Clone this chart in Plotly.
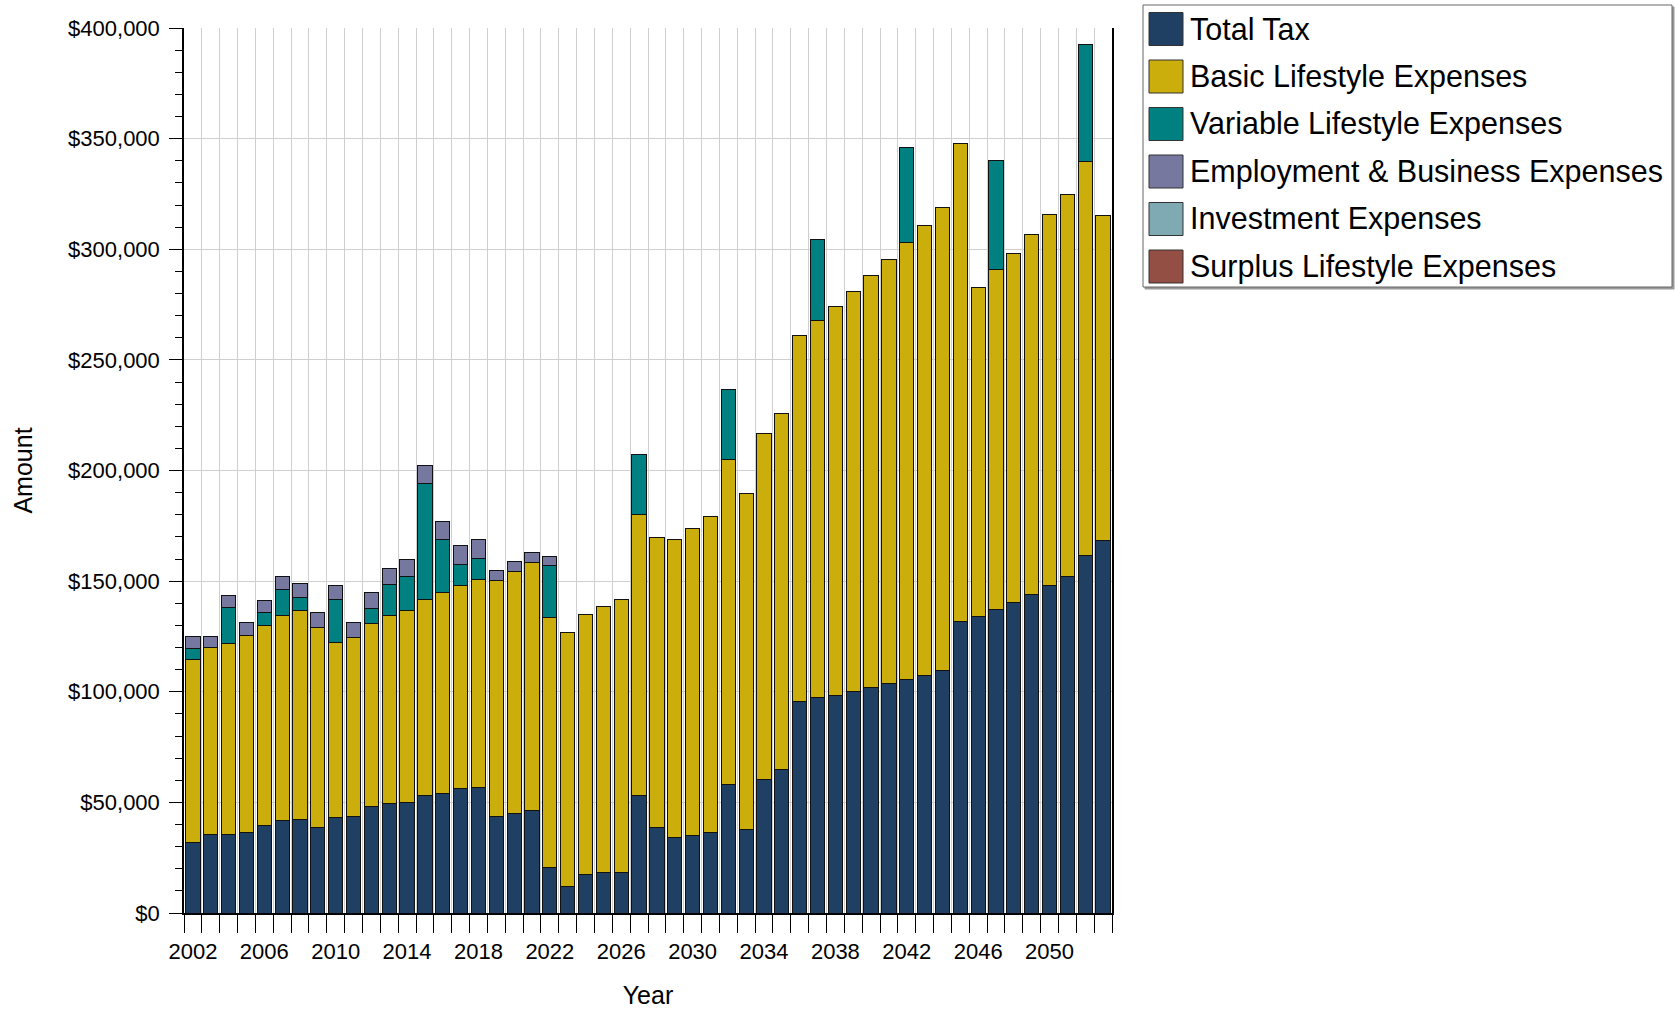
import plotly.graph_objects as go

years = list(range(2002, 2054))

total_tax = [31900, 35400, 35700, 36600, 39400, 41700, 42100, 38700, 43000, 43500,
             48300, 49700, 50100, 53100, 54200, 56300, 56700, 43600, 45200, 46500,
             20500, 11900, 17600, 18500, 18200, 53100, 38800, 34000, 35200, 36400,
             57900, 37900, 60400, 64900, 95800, 97300, 98300, 100000, 101900, 103600,
             105500, 107300, 109400, 131700, 133800, 137300, 140400, 144100, 148100, 152200,
             161500, 168500]

basic_lifestyle = [82800, 84400, 86200, 88800, 90500, 92800, 94700, 90400, 79400, 81100,
                   82600, 84700, 86600, 88500, 90700, 91900, 94100, 106700, 109200, 111700,
                   113100, 115000, 117400, 120100, 123300, 127100, 131100, 135000, 138800, 143000,
                   147100, 151800, 156100, 160700, 165300, 170400, 175700, 180900, 186200, 191900,
                   197700, 203400, 209400, 216100, 149100, 153400, 157800, 162600, 167600, 172600,
                   178200, 146600]

variable_lifestyle = [4900, 0, 16300, 0, 5700, 11600, 5900, 0, 19100, 0,
                      6800, 14000, 15500, 52700, 24000, 9500, 9600, 0, 0, 0,
                      23500, 0, 0, 0, 0, 27200, 0, 0, 0, 0,
                      31700, 0, 0, 0, 0, 36600, 0, 0, 0, 0,
                      42700, 0, 0, 0, 0, 49500, 0, 0, 0, 0,
                      52700, 0]

employment_business = [5200, 5300, 5400, 5700, 5700, 6200, 6300, 6700, 6600, 6900,
                       7200, 7100, 7500, 7800, 8100, 8200, 8500, 4400, 4500, 4600,
                       4100] + [0] * 31

investment = [0] * 52
surplus_lifestyle = [0] * 52

series_names = ["Total Tax", "Basic Lifestyle Expenses", "Variable Lifestyle Expenses",
                "Employment & Business Expenses", "Investment Expenses", "Surplus Lifestyle Expenses"]
series_values = [total_tax, basic_lifestyle, variable_lifestyle, employment_business,
                 investment, surplus_lifestyle]
series_colors = ["#1f3f63", "#cbae0b", "#008080", "#77789f", "#80aab3", "#944f44"]

xtick_years = list(range(2002, 2051, 4))

FONT = "Arial, 'Liberation Sans', sans-serif"

fig = go.Figure()
for name, vals, col in zip(series_names, series_values, series_colors):
    fig.add_trace(go.Bar(
        x=years, y=[v if v > 0 else None for v in vals], name=name,
        marker=dict(color=col, line=dict(color="#111111", width=1)),
        width=0.8, showlegend=False,
    ))

# plot area in pixels
L, R, T, B = 184, 1112, 28, 913
W, H = 1675, 1013

fig.update_layout(
    width=W, height=H,
    barmode="stack",
    plot_bgcolor="white", paper_bgcolor="white",
    margin=dict(l=L, r=W - R, t=T, b=H - B, autoexpand=False),
    font=dict(family=FONT, color="black", size=22),
)

fig.update_xaxes(
    range=[2001.5, 2053.5],
    tickmode="array", tickvals=xtick_years, ticktext=[str(y) for y in xtick_years],
    ticks="outside", ticklen=18, tickcolor="rgba(0,0,0,0)",
    showgrid=False, zeroline=False,
    showline=True, linecolor="black", linewidth=1.5,
    tickfont=dict(size=22),
    minor=dict(tickmode="array", tickvals=[y - 0.5 for y in years] + [2053.5],
               ticks="outside", ticklen=18, tickcolor="black", tickwidth=1,
               showgrid=True, gridcolor="#cfcfcf", gridwidth=1),
    title=dict(text="Year", font=dict(size=25), standoff=23),
)

fig.update_yaxes(
    range=[0, 400000], dtick=50000, tick0=0,
    tickprefix="$", tickformat=",",
    ticks="outside", ticklen=13, tickcolor="black", tickwidth=1,
    ticklabelstandoff=5,
    showgrid=True, gridcolor="#cfcfcf", gridwidth=1, zeroline=False,
    showline=True, linecolor="black", linewidth=1.5, mirror=True,
    tickfont=dict(size=22),
    minor=dict(dtick=10000, ticks="outside", ticklen=7, tickcolor="black", showgrid=False),
    title=dict(text="Amount", font=dict(size=25), standoff=28),
)

# custom legend (large swatches as in the reference)
pw, ph = R - L, B - T
def px_x(px):
    return (px - L) / pw
def px_y(py):
    return (B - py) / ph

lx0, lx1, ly0, ly1 = 1143, 1672, 5, 287
fig.add_shape(type="rect", xref="paper", yref="paper",
              x0=px_x(lx0 + 2), x1=px_x(lx1 + 2), y0=px_y(ly1 + 2), y1=px_y(ly0 + 2),
              line=dict(color="#9a9a9a", width=1), fillcolor="#9a9a9a", layer="above")
fig.add_shape(type="rect", xref="paper", yref="paper",
              x0=px_x(lx0), x1=px_x(lx1), y0=px_y(ly1), y1=px_y(ly0),
              line=dict(color="#666666", width=1), fillcolor="white", layer="above")
for i, (name, col) in enumerate(zip(series_names, series_colors)):
    cy = 29 + i * 47.5
    fig.add_shape(type="rect", xref="paper", yref="paper",
                  x0=px_x(1149), x1=px_x(1183), y0=px_y(cy + 16.5), y1=px_y(cy - 16.5),
                  line=dict(color="#333333", width=1), fillcolor=col, layer="above")
    fig.add_annotation(xref="paper", yref="paper", x=px_x(1188), y=px_y(cy),
                       xanchor="left", yanchor="middle", showarrow=False,
                       text=name, font=dict(size=30.5, color="black", family=FONT))

fig.write_html("out.html", config={"displayModeBar": False},
               post_script="document.body.style.margin='0';")
